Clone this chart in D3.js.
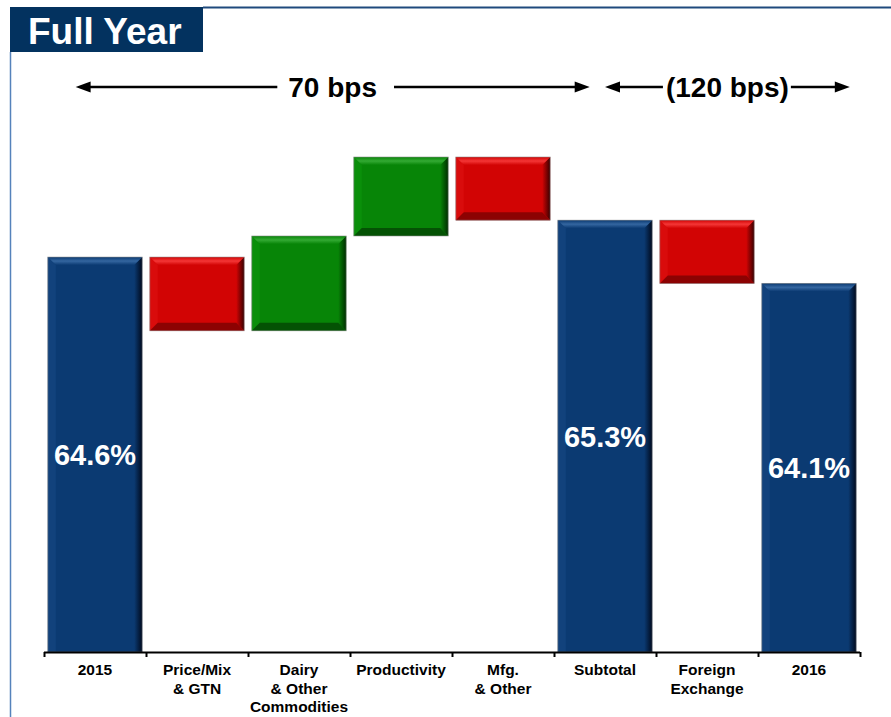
<!DOCTYPE html>
<html>
<head>
<meta charset="utf-8">
<script src="https://cdn.jsdelivr.net/npm/d3@7"></script>
<style>
  html, body { margin: 0; padding: 0; background: #fff; }
  svg { display: block; font-family: Arial, "Liberation Sans", sans-serif; }
</style>
</head>
<body>
<svg id="chart" width="891" height="717"></svg>
<script>
// ---- data ----
const title = "Full Year";
const categories = ["2015", "Price/Mix & GTN", "Dairy & Other Commodities", "Productivity", "Mfg. & Other", "Subtotal", "Foreign Exchange", "2016"];
const categoryLines = [["2015"], ["Price/Mix", "& GTN"], ["Dairy", "& Other", "Commodities"], ["Productivity"], ["Mfg.", "& Other"], ["Subtotal"], ["Foreign", "Exchange"], ["2016"]];
const values = [64.6, -1.4, 1.8, 1.5, -1.2, 65.3, -1.2, 64.1];
const kinds = ["total", "delta", "delta", "delta", "delta", "total", "delta", "total"];
const valueLabels = ["64.6%", "", "", "", "", "65.3%", "", "64.1%"];
const spanLabels = ["70 bps", "(120 bps)"];

// ---- layout ----
const svg = d3.select("#chart");
const W = 891, H = 717;
const baseY = 652, topY = 157;
const x = d3.scaleBand().domain(categories).range([44, 860]).padding(0);
const xIdx = d3.scaleLinear().domain([0, categories.length]).range([44, 860]);
const y = d3.scaleLinear().domain([57.1, 66.5]).range([baseY, topY]);

const palette = {
  total: { main: "#0b3a72", top: "#3466a0", left: "#12427c", dark: "#000a1e", bottom: "#0b3a72" },
  up:    { main: "#078507", top: "#33aa33", left: "#0a8f0a", dark: "#002e00", bottom: "#045204" },
  down:  { main: "#d20404", top: "#f43636", left: "#d90c0c", dark: "#3a0000", bottom: "#8c0202" }
};

const defs = svg.append("defs");
Object.entries(palette).forEach(([k, p]) => {
  const g = defs.append("linearGradient").attr("id", "rg-" + k).attr("x1", "0").attr("x2", "1").attr("y1", "0").attr("y2", "0");
  g.append("stop").attr("offset", "0%").attr("stop-color", p.main);
  g.append("stop").attr("offset", "100%").attr("stop-color", p.dark);
  const t = defs.append("linearGradient").attr("id", "tg-" + k).attr("x1", "0").attr("x2", "0").attr("y1", "0").attr("y2", "1");
  t.append("stop").attr("offset", "0%").attr("stop-color", p.main);
  t.append("stop").attr("offset", "50%").attr("stop-color", p.top);
  t.append("stop").attr("offset", "100%").attr("stop-color", p.main);
});

// ---- frame & title ----
svg.append("line").attr("x1", 203).attr("x2", W).attr("y1", 7.5).attr("y2", 7.5)
  .attr("stroke", "#1f4a7d").attr("stroke-width", 2);
svg.append("line").attr("x1", 10.5).attr("x2", 10.5).attr("y1", 52).attr("y2", H)
  .attr("stroke", "#5582bb").attr("stroke-width", 1.5);
svg.append("rect").attr("x", 10).attr("y", 7).attr("width", 193).attr("height", 45).attr("fill", "#03325f");
svg.append("text").attr("x", 28).attr("y", 44).attr("fill", "#fff")
  .attr("font-size", 37).attr("font-weight", "bold").text(title);

// ---- waterfall computation ----
let run = 0;
const bars = categories.map((c, i) => {
  let lo, hi, kind;
  if (kinds[i] === "total") {
    run = values[i]; lo = y.domain()[0]; hi = values[i]; kind = "total";
  } else {
    const start = run; run = run + values[i];
    lo = Math.min(start, run); hi = Math.max(start, run);
    kind = values[i] >= 0 ? "up" : "down";
  }
  return { c, i, lo, hi, kind, label: valueLabels[i], total: kinds[i] === "total" };
});

// ---- bars with bevel ----
const barW = x.bandwidth() * 0.925;
const b = 8;
const g = svg.append("g");
bars.forEach(d => {
  const cx = x(d.c) + x.bandwidth() / 2;
  const x0 = cx - barW / 2, x1 = cx + barW / 2;
  const y0 = y(d.hi), y1 = y(d.lo);
  const p = palette[d.kind];
  const gg = g.append("g");
  gg.append("rect").attr("x", x0).attr("y", y0).attr("width", x1 - x0).attr("height", y1 - y0)
    .attr("fill", p.main);
  const poly = pts => gg.append("polygon").attr("points", pts.map(q => q.join(",")).join(" "));
  const yb = d.total ? y1 : y1 - b;
  poly([[x0, y0], [x0 + b, y0 + b], [x0 + b, yb], [x0, y1]]).attr("fill", p.left);
  poly([[x1, y0], [x1, y1], [x1 - b, yb], [x1 - b, y0 + b]]).attr("fill", `url(#rg-${d.kind})`);
  if (!d.total) poly([[x0, y1], [x1, y1], [x1 - b, y1 - b], [x0 + b, y1 - b]]).attr("fill", p.bottom);
  poly([[x0, y0], [x1, y0], [x1 - b, y0 + b], [x0 + b, y0 + b]]).attr("fill", `url(#tg-${d.kind})`);
  gg.append("rect").attr("x", x0).attr("y", y0).attr("width", x1 - x0).attr("height", y1 - y0)
    .attr("fill", "none").attr("stroke", "#8a8a8a").attr("stroke-width", 0.8).attr("stroke-opacity", 0.7);
  if (d.label) {
    gg.append("text").attr("x", cx).attr("y", (y0 + y1) / 2).attr("dy", "0.36em")
      .attr("text-anchor", "middle").attr("fill", "#fff").attr("font-size", 29).attr("font-weight", "bold")
      .text(d.label);
  }
});

// ---- axis ----
const axis = svg.append("g").attr("transform", `translate(0,${baseY})`)
  .call(d3.axisBottom(xIdx).tickValues(d3.range(categories.length + 1)).tickSize(5).tickSizeOuter(0).tickFormat(""));
axis.selectAll("path, line").attr("stroke", "#000").attr("stroke-width", 2);
axis.select(".domain").attr("d", `M${xIdx(0)},0.5H${xIdx(categories.length)}`);

const lab = svg.append("g");
categories.forEach((c, i) => {
  const t = lab.append("text").attr("x", x(c) + x.bandwidth() / 2).attr("y", 675)
    .attr("text-anchor", "middle").attr("font-size", 15.5).attr("font-weight", "bold").attr("fill", "#000");
  categoryLines[i].forEach((ln, j) => t.append("tspan").attr("x", x(c) + x.bandwidth() / 2).attr("y", 675 + j * 18.5).text(ln));
});

// ---- span arrows ----
const step = x.step();
const spans = [
  { label: spanLabels[0], x1: xIdx(0) + 0.31 * step, x2: xIdx(5) + 0.35 * step, gapL: 11, gapR: 17 },
  { label: spanLabels[1], x1: xIdx(5) + 0.5 * step, x2: xIdx(7) + 0.9 * step, gapL: 3, gapR: 2 }
];
const arrowY = 87;
spans.forEach(s => {
  const cx = (s.x1 + s.x2) / 2;
  const t = svg.append("text").attr("x", cx).attr("y", arrowY).attr("dy", "0.36em")
    .attr("text-anchor", "middle").attr("font-size", 28).attr("font-weight", "bold").attr("fill", "#000").text(s.label);
  const tw = t.node().getComputedTextLength();
  const ah = 15, aw = 5.5;
  svg.append("line").attr("x1", s.x1 + ah - 1).attr("x2", cx - tw / 2 - s.gapL).attr("y1", arrowY).attr("y2", arrowY)
    .attr("stroke", "#000").attr("stroke-width", 2.5);
  svg.append("line").attr("x1", cx + tw / 2 + s.gapR).attr("x2", s.x2 - ah + 1).attr("y1", arrowY).attr("y2", arrowY)
    .attr("stroke", "#000").attr("stroke-width", 2.5);
  svg.append("polygon").attr("points", `${s.x1},${arrowY} ${s.x1 + ah},${arrowY - aw} ${s.x1 + ah},${arrowY + aw}`).attr("fill", "#000");
  svg.append("polygon").attr("points", `${s.x2},${arrowY} ${s.x2 - ah},${arrowY - aw} ${s.x2 - ah},${arrowY + aw}`).attr("fill", "#000");
});
</script>
</body>
</html>
